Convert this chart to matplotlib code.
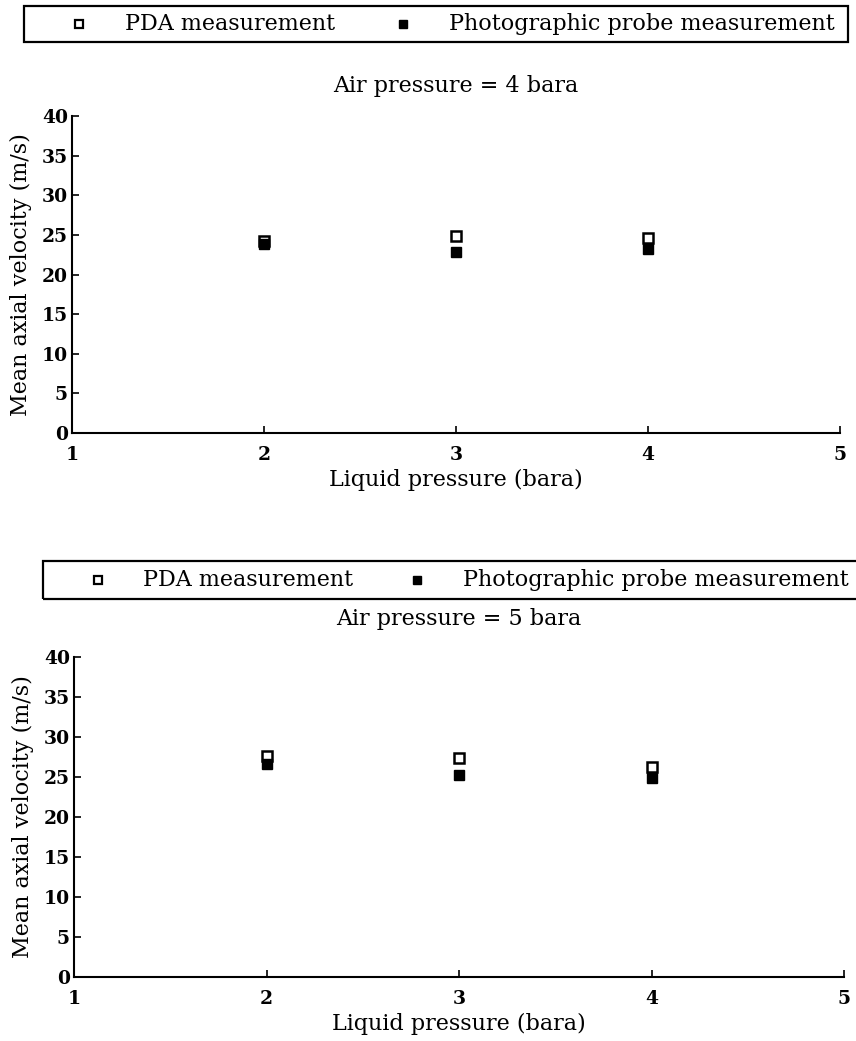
import matplotlib.pyplot as plt
from matplotlib.lines import Line2D
from matplotlib.patches import Rectangle

W, H = 856, 1041

liquid_pressure = [2, 3, 4]

# air pressure = 4 bara
pda_4 = [24.2, 24.8, 24.6]
photo_4 = [23.9, 22.9, 23.2]

# air pressure = 5 bara
pda_5 = [27.6, 27.4, 26.3]
photo_5 = [26.6, 25.3, 24.9]

xticks = [1, 2, 3, 4, 5]
yticks = [0, 5, 10, 15, 20, 25, 30, 35, 40]

FONT = "DejaVu Serif"
FS = 16
TICK_FS = 13.5

plt.rcParams["font.family"] = FONT


def fx(px):
    return px / W


def fy(px):
    return 1 - px / H


def key_box(fig, left, right, top, bottom, m1, t1, m2, t2):
    """Legend frame drawn in figure pixels."""
    fig.patches.append(Rectangle((fx(left), fy(bottom)), fx(right) - fx(left),
                                 fy(top) - fy(bottom), transform=fig.transFigure,
                                 fill=False, ec="black", lw=1.6, clip_on=False))
    yc = fy((top + bottom) / 2)
    fig.lines.append(Line2D([fx(m1)], [yc], marker="s", ms=6, mfc="white",
                            mec="black", mew=1.6, ls="none",
                            transform=fig.transFigure))
    fig.lines.append(Line2D([fx(m2)], [yc], marker="s", ms=6, mfc="black",
                            mec="black", ls="none", transform=fig.transFigure))
    fig.text(fx(t1), yc, "PDA measurement", fontsize=FS, va="center", ha="left")
    fig.text(fx(t2), yc, "Photographic probe measurement", fontsize=FS,
             va="center", ha="left")


def panel(ax, pda, photo, title, title_pad):
    ax.plot(liquid_pressure, pda, ls="none", marker="s", ms=7, mfc="white",
            mec="black", mew=1.8, zorder=3)
    ax.plot(liquid_pressure, photo, ls="none", marker="s", ms=7, mfc="black",
            mec="black", zorder=4)
    ax.set_xlim(1, 5)
    ax.set_ylim(0, 40)
    ax.set_xticks(xticks)
    ax.set_yticks(yticks)
    ax.tick_params(direction="in", length=5, width=1.2, labelsize=TICK_FS)
    ax.tick_params(axis="x", pad=9)
    ax.tick_params(axis="y", pad=3)
    for lab in ax.get_xticklabels() + ax.get_yticklabels():
        lab.set_fontweight("bold")
    for s in ("top", "right"):
        ax.spines[s].set_visible(False)
    for s in ("left", "bottom"):
        ax.spines[s].set_linewidth(1.5)
    ax.set_xlabel("Liquid pressure (bara)", fontsize=FS, labelpad=4)
    ax.set_ylabel("Mean axial velocity (m/s)", fontsize=FS)
    ax.yaxis.set_label_coords(-0.052, 0.5)
    ax.set_title(title, fontsize=FS, pad=title_pad)


fig = plt.figure(figsize=(W / 100, H / 100), dpi=100)

ax1 = fig.add_axes([fx(72), fy(433), fx(840) - fx(72), fy(116) - fy(433)])
ax2 = fig.add_axes([fx(74), fy(977), fx(844) - fx(74), fy(657) - fy(977)])

panel(ax1, pda_4, photo_4, "Air pressure = 4 bara", 17)
panel(ax2, pda_5, photo_5, "Air pressure = 5 bara", 23)

key_box(fig, 24, 848, 6, 42, 79, 125, 403, 449)
key_box(fig, 43, 870, 561, 599, 98, 143, 417, 463)

fig.savefig("out.png", dpi=100)
